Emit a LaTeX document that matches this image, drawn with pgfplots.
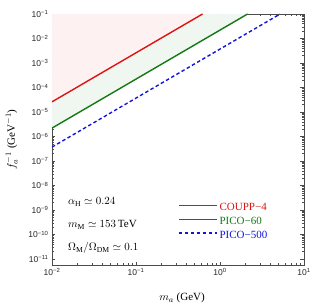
\documentclass[border=0pt]{standalone}
\usepackage{pgfplots}
\pgfplotsset{compat=1.18}
\usepackage{fontspec}
\setmainfont{Liberation Serif}
\setsansfont{Liberation Sans}
\definecolor{pinkfill}{RGB}{253,241,241}
\definecolor{greenfill}{RGB}{240,246,240}
\definecolor{lred}{RGB}{220,20,20}
\definecolor{lgreen}{RGB}{20,120,20}
\definecolor{lblue}{RGB}{20,20,220}
\begin{document}
\begin{tikzpicture}
\begin{axis}[name=ax, xmode=log, ymode=log, scale only axis, width=252pt, height=251pt,
  xmin=0.01, xmax=10, ymin=5.7e-12, ymax=0.1,
  xtick={0.01,0.1,1,10},
  xticklabels={10\textsuperscript{−2},10\textsuperscript{−1},10\textsuperscript{0},10\textsuperscript{1}},
  ytick={1e-11,1e-10,1e-9,1e-8,1e-7,1e-6,1e-5,1e-4,1e-3,1e-2,1e-1},
  yticklabels={10\textsuperscript{−11},10\textsuperscript{−10},10\textsuperscript{−9},10\textsuperscript{−8},10\textsuperscript{−7},10\textsuperscript{−6},10\textsuperscript{−5},10\textsuperscript{−4},10\textsuperscript{−3},10\textsuperscript{−2},10\textsuperscript{−1}},
  tick label style={font=\fontsize{8.5}{9}\selectfont\sffamily, text=black!85},
  axis line style={black!70, line width=0.8pt}, tick style={black!70, line width=0.5pt},
  major tick length=3.5pt, minor tick length=2pt,
  xlabel={$m_a$ (GeV)}, ylabel={$f_a^{-1}$ (GeV$^{-1}$)},
  label style={font=\fontsize{11}{12}\selectfont},
  ylabel style={at={(axis description cs:-0.16,0.5)}, anchor=center},
  xlabel style={at={(axis description cs:0.516,-0.131)}, anchor=center},
  legend style={at={(axis description cs:0.5,0.255)}, anchor=north west, draw=none, fill=none,
    font=\fontsize{11}{12}\selectfont, row sep=1pt, inner sep=0pt},
  legend cell align=left,
]
\addplot[fill=pinkfill, draw=none, forget plot] coordinates {(0.01,2.6e-5) (0.62,0.1) (0.01,0.1)} -- cycle;
\addplot[fill=greenfill, draw=none, forget plot] coordinates {(0.01,2.6e-5) (0.62,0.1) (2.13,0.1) (0.01,2.2e-6)} -- cycle;
\addplot[draw=lred, line width=1.4pt, legend image code/.code={\draw[lred, line width=1.4pt] (0pt,2pt) -- (38pt,2pt);}] coordinates {(0.01,2.6e-5) (0.62,0.1)};
\addlegendentry{\textcolor{lred}{COUPP−4}}
\addplot[draw=lgreen, line width=1.4pt, legend image code/.code={\draw[lgreen, line width=1.4pt] (0pt,2pt) -- (38pt,2pt);}] coordinates {(0.01,2.2e-6) (2.13,0.1)};
\addlegendentry{\textcolor{lgreen}{PICO−60}}
\addplot[draw=lblue, line width=1.4pt, dash pattern=on 3.5pt off 2.5pt, legend image code/.code={\draw[lblue, line width=1.4pt, dash pattern=on 3.5pt off 2.5pt] (0pt,2pt) -- (38pt,2pt);}] coordinates {(0.01,3.7e-7) (5.2,0.1)};
\addlegendentry{\textcolor{lblue}{PICO−500}}
\node[anchor=west, font=\fontsize{11}{12}\selectfont] at (rel axis cs:0.05,0.251) {$\alpha_{\rm H}\simeq 0.24$};
\node[anchor=west, font=\fontsize{11}{12}\selectfont] at (rel axis cs:0.05,0.159) {$m_{\rm M}\simeq 153\,$TeV};
\node[anchor=west, font=\fontsize{11}{12}\selectfont] at (rel axis cs:0.05,0.068) {$\Omega_{\rm M}/\Omega_{\rm DM}\simeq 0.1$};
\end{axis}
\pgfresetboundingbox
\path[use as bounding box] ([shift={(-52pt,-41pt)}]ax.south west) rectangle ([shift={(9pt,14pt)}]ax.north east);
\end{tikzpicture}
\end{document}
